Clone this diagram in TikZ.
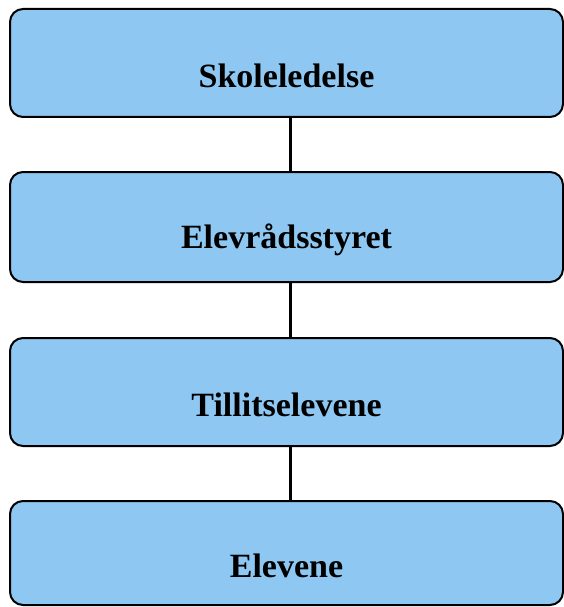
\documentclass[tikz,border=0pt]{standalone}
\usepackage{fontspec}
\setmainfont{Liberation Serif}
\definecolor{boxblue}{RGB}{142,200,242}
\begin{document}
\begin{tikzpicture}[x=1pt,y=-1pt,
  box/.style={draw=black,line width=2pt,fill=boxblue,rounded corners=13pt,
    minimum width=553pt,inner sep=0pt,outer sep=0pt},
  boxtext/.style={font=\bfseries\fontsize{34}{40}\selectfont,yshift=-13pt},
  link/.style={line width=3pt}]
\useasboundingbox (0,0) rectangle (564,607);
\node[box,minimum height=108pt,label={[boxtext]center:Skoleledelse}] (a) at (286.5,63) {};
\node[box,minimum height=110pt,label={[boxtext]center:Elevrådsstyret}] (b) at (286.5,227) {};
\node[box,minimum height=108pt,label={[boxtext]center:Tillitselevene}] (c) at (286.5,392) {};
\node[box,minimum height=104pt,label={[boxtext]center:Elevene}] (d) at (286.5,553) {};
\draw[link] ([xshift=3.5pt]a.south) -- ([xshift=3.5pt]b.north);
\draw[link] ([xshift=3.5pt]b.south) -- ([xshift=3.5pt]c.north);
\draw[link] ([xshift=3.5pt]c.south) -- ([xshift=3.5pt]d.north);
\end{tikzpicture}
\end{document}
